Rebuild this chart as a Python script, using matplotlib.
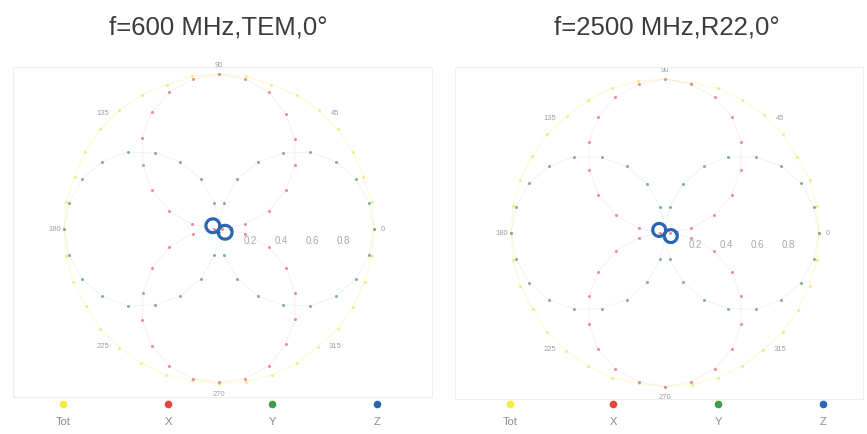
import numpy as np
import matplotlib
matplotlib.use("Agg")
import matplotlib.pyplot as plt
from matplotlib.patches import Rectangle
from matplotlib.lines import Line2D

plt.rcParams['font.family'] = ['Liberation Sans', 'DejaVu Sans']

angles_deg = list(range(0, 360, 10))

titles = ["f=600 MHz,TEM,0°", "f=2500 MHz,R22,0°"]
series_names = ["Tot", "X", "Y", "Z"]
series_colors = ["#f2ee3a", "#e5463c", "#3e9e47", "#2a67b3"]
dot_colors = ["#efe86a", "#d8707a", "#5c9a70", "#2a67b3"]
angle_labels = ["0", "45", "90", "135", "180", "225", "270", "315"]
radial_labels = ["0.2", "0.4", "0.6", "0.8"]

# ---- chart 1 : f=600 MHz, TEM, 0 deg ----
tot_1 = [1.00, 1.00, 0.99, 1.00, 1.00, 1.00, 1.00, 0.99, 1.00, 1.00,
         1.00, 0.99, 1.00, 1.00, 1.00, 1.00, 0.99, 1.00, 1.00, 1.00,
         1.00, 0.99, 1.00, 1.00, 1.00, 1.00, 0.99, 1.00, 1.00, 1.00,
         1.00, 0.99, 1.00, 1.00, 1.00, 1.00]
x_1 = [0.02, 0.17, 0.34, 0.50, 0.64, 0.76, 0.86, 0.94, 0.98, 1.00,
       0.98, 0.94, 0.87, 0.77, 0.64, 0.50, 0.34, 0.18, 0.03, 0.17,
       0.34, 0.50, 0.64, 0.77, 0.87, 0.94, 0.98, 0.99, 0.98, 0.94,
       0.86, 0.76, 0.64, 0.50, 0.34, 0.17]
y_1 = [1.00, 0.98, 0.94, 0.87, 0.77, 0.64, 0.50, 0.34, 0.17, 0.02,
       0.17, 0.34, 0.50, 0.64, 0.77, 0.87, 0.94, 0.98, 1.00, 0.98,
       0.94, 0.87, 0.77, 0.64, 0.50, 0.34, 0.17, 0.02, 0.17, 0.34,
       0.50, 0.64, 0.77, 0.87, 0.94, 0.98]
z_1 = [0.079, 0.071, 0.060, 0.048, 0.034, 0.019, 0.003, 0.013, 0.028, 0.042,
       0.055, 0.067, 0.076, 0.083, 0.088, 0.090, 0.089, 0.086, 0.079, 0.071,
       0.060, 0.048, 0.034, 0.019, 0.003, 0.013, 0.028, 0.042, 0.055, 0.067,
       0.076, 0.083, 0.088, 0.090, 0.089, 0.086]

# ---- chart 2 : f=2500 MHz, R22, 0 deg ----
tot_2 = [1.00, 1.00, 1.00, 0.99, 1.00, 1.00, 1.00, 1.00, 0.99, 1.00,
         1.00, 1.00, 1.00, 0.99, 1.00, 1.00, 1.00, 1.00, 1.00, 1.00,
         1.00, 0.99, 1.00, 1.00, 1.00, 1.00, 0.99, 1.00, 1.00, 1.00,
         1.00, 0.99, 1.00, 1.00, 1.00, 1.00]
x_2 = [0.03, 0.17, 0.34, 0.50, 0.64, 0.77, 0.87, 0.94, 0.98, 1.00,
       0.98, 0.94, 0.87, 0.77, 0.64, 0.50, 0.34, 0.17, 0.03, 0.17,
       0.34, 0.50, 0.64, 0.77, 0.87, 0.94, 0.98, 1.00, 0.98, 0.94,
       0.87, 0.77, 0.64, 0.50, 0.34, 0.17]
y_2 = [1.00, 0.98, 0.94, 0.87, 0.77, 0.64, 0.50, 0.34, 0.17, 0.03,
       0.17, 0.34, 0.50, 0.64, 0.77, 0.87, 0.94, 0.98, 1.00, 0.98,
       0.94, 0.87, 0.77, 0.64, 0.50, 0.34, 0.17, 0.03, 0.17, 0.34,
       0.50, 0.64, 0.77, 0.87, 0.94, 0.98]
z_2 = [0.075, 0.067, 0.057, 0.045, 0.032, 0.018, 0.003, 0.012, 0.026, 0.040,
       0.052, 0.063, 0.072, 0.079, 0.083, 0.085, 0.084, 0.081, 0.075, 0.067,
       0.057, 0.045, 0.032, 0.018, 0.003, 0.012, 0.026, 0.040, 0.052, 0.063,
       0.072, 0.079, 0.083, 0.085, 0.084, 0.081]

charts = [
    dict(title=titles[0], data=[tot_1, x_1, y_1, z_1], center=(219, 230), radius=155,
         frame=(13, 68, 432, 398), title_x=218, legend_x=[63, 168, 272, 377]),
    dict(title=titles[1], data=[tot_2, x_2, y_2, z_2], center=(665, 234), radius=154,
         frame=(455, 68, 863, 400), title_x=667, legend_x=[510, 613, 718, 823]),
]

W, H = 867, 435
fig = plt.figure(figsize=(W / 100, H / 100), dpi=100)
fig.patch.set_facecolor("white")

RMAX = 1.12
theta = np.deg2rad(np.array(angles_deg + [angles_deg[0]]))

for ch in charts:
    cx, cy = ch["center"]
    rad_px = ch["radius"] * RMAX
    x0, y0, x1, y1 = ch["frame"]
    fig.patches.append(Rectangle((x0 / W, 1 - y1 / H), (x1 - x0) / W, (y1 - y0) / H,
                                 transform=fig.transFigure, fill=False,
                                 edgecolor="#efefef", linewidth=0.8))
    ax = fig.add_axes([(cx - rad_px) / W, (H - cy - rad_px) / H, 2 * rad_px / W, 2 * rad_px / H],
                      projection="polar")
    ax.set_facecolor("none")
    ax.set_ylim(0, RMAX)
    ax.grid(False)
    ax.spines["polar"].set_visible(False)
    ax.set_xticks([])
    ax.set_yticks([])
    for name, vals, col, dcol in zip(series_names, ch["data"], series_colors, dot_colors):
        v = np.array(vals + [vals[0]])
        if name == "Z":
            ax.plot(theta, v, color=col, lw=2.3, zorder=5)
        else:
            line_alpha = 0.22 if name == "Tot" else 0.08
            ax.plot(theta, v, color=col, lw=0.8, alpha=line_alpha, zorder=2)
            ax.plot(theta[:-1], v[:-1], ls="none", marker="o", ms=2.2,
                    color=dcol, alpha=0.75, mec="none", zorder=3)
    for lab in angle_labels:
        a = np.deg2rad(float(lab))
        ax.text(a, 1.06, lab, fontsize=5.5, color="#a0a0a0", ha="center", va="center")
    for lab in radial_labels:
        ax.annotate(lab, xy=(0, float(lab)), xytext=(0, -8), textcoords="offset points",
                    fontsize=7, color="#a8a8a8", ha="center", va="center")
    fig.text(ch["title_x"] / W, 1 - 27 / H, ch["title"], fontsize=18.5, color="#3c3c3c",
             ha="center", va="center")
    for lx, name, col in zip(ch["legend_x"], series_names, series_colors):
        fig.add_artist(Line2D([lx / W], [1 - 405 / H], marker="o", ms=5.5, color=col,
                              mec="none", transform=fig.transFigure))
        fig.text(lx / W, 1 - 422 / H, name, fontsize=8, color="#8a8a8a",
                 ha="center", va="center")

fig.savefig("out.png", dpi=100, facecolor="white")
